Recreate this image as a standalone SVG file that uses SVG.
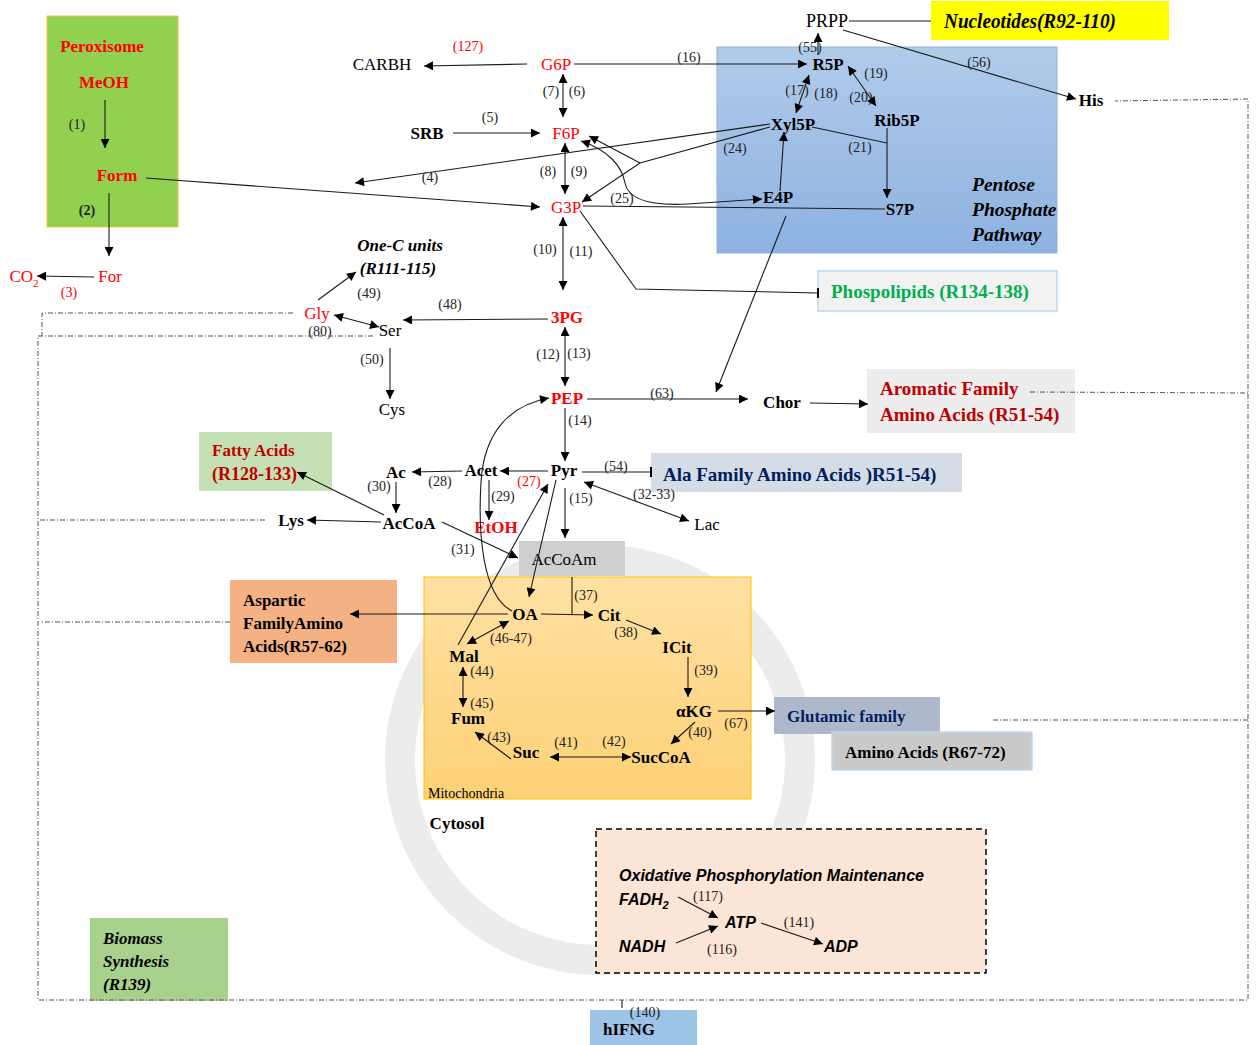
<svg xmlns="http://www.w3.org/2000/svg" width="1259" height="1045" viewBox="0 0 1259 1045">
<style>
  text { font-family: "Liberation Serif", "Times New Roman", serif; fill: #000; }
  .nb { font-size: 17px; font-weight: bold; text-anchor: middle; }
  .nr { font-size: 17px; text-anchor: middle; }
  .rx { font-size: 14px; text-anchor: middle; fill: #222; }
  .st { text-anchor: start; }
  .red { fill: #ff0000; }
  .dred { fill: #c00000; }
  .navy { fill: #002060; }
  .green { fill: #00b050; }
  .bt { font-size: 19px; font-weight: bold; }
  .bi { font-size: 17px; font-weight: bold; font-style: italic; }
  .ppp { font-size: 19.5px; }
  .ox { font-family: "Liberation Sans", Arial, sans-serif; font-size: 16px; font-weight: bold; font-style: italic; }
  .ln { fill: none; stroke: #1a1a1a; stroke-width: 1.1; }
  .a { marker-end: url(#ah); }
  .b { marker-start: url(#ah); marker-end: url(#ah); }
  .dd { fill: none; stroke: #555; stroke-width: 1; stroke-dasharray: 5 2 1 2; }
  .wm { fill: none; stroke: #ececec; }
</style>
<defs>
  <marker id="ah" viewBox="0 0 10 10" refX="10" refY="5" markerWidth="10" markerHeight="9" markerUnits="userSpaceOnUse" orient="auto-start-reverse">
    <path d="M0,0 L10,5 L0,10 z" fill="#000"/>
  </marker>
  <marker id="tee" viewBox="0 0 2 10" refX="1" refY="5" markerWidth="2" markerHeight="11" markerUnits="userSpaceOnUse" orient="auto">
    <rect width="2" height="10" fill="#000"/>
  </marker>
  <linearGradient id="ppp" x1="0" y1="0" x2="0" y2="1">
    <stop offset="0" stop-color="#b1cbea"/>
    <stop offset="1" stop-color="#8db2e1"/>
  </linearGradient>
  <linearGradient id="mito" x1="0" y1="0" x2="0" y2="1">
    <stop offset="0" stop-color="#ffe1a3"/>
    <stop offset="1" stop-color="#fdd176"/>
  </linearGradient>
</defs>

<rect width="1259" height="1045" fill="#fff"/>

<!-- faint background emblem -->
<g id="watermark">
  <circle class="wm" cx="600" cy="760" r="200" stroke-width="30"/>
</g>

<!-- compartments and pathway boxes -->
<g id="peroxisome">
  <rect x="47" y="16" width="131" height="211" fill="#92d050" stroke="#f5c342" stroke-width="1"/>
  <text class="nb red" x="102" y="52">Peroxisome</text>
  <text class="nb red" x="104" y="88">MeOH</text>
  <text class="nb red" x="117" y="181">Form</text>
  <text class="rx" x="77" y="129">(1)</text>
  <text class="rx" x="87" y="215" style="font-weight:bold">(2)</text>
</g>
<g id="ppp-box">
  <rect x="717" y="47" width="340" height="206" fill="url(#ppp)" stroke="#8fb0dc" stroke-width="1"/>
  <text class="bi ppp" x="972" y="191">Pentose</text>
  <text class="bi ppp" x="972" y="216">Phosphate</text>
  <text class="bi ppp" x="972" y="241">Pathway</text>
</g>
<g id="mitochondria">
  <rect x="424" y="577" width="327" height="222" fill="url(#mito)" stroke="#ffc000" stroke-width="1"/>
  <text x="428" y="798" font-family="'Liberation Sans', Arial, sans-serif" font-size="14" fill="#333">Mitochondria</text>
</g>
<g id="nucleotides">
  <rect x="931" y="1" width="238" height="39" fill="#ffff00"/>
  <text class="bi" x="944" y="28" style="font-size:20px" textLength="172" lengthAdjust="spacingAndGlyphs">Nucleotides(R92-110)</text>
</g>
<g id="phospholipids">
  <rect x="818" y="271" width="239" height="40" fill="#f2f2f2" stroke="#bdd7ee" stroke-width="1.5"/>
  <text class="bt green" x="831" y="298">Phospolipids (R134-138)</text>
</g>
<g id="aromatic">
  <rect x="867" y="369" width="208" height="64" fill="#ededed"/>
  <text class="bt dred" x="880" y="395">Aromatic Family</text>
  <text class="bt dred" x="880" y="421">Amino Acids (R51-54)</text>
</g>
<g id="ala">
  <rect x="651" y="453" width="311" height="39" fill="#d6dce5"/>
  <text class="bt navy" x="663" y="481">Ala Family Amino Acids )R51-54)</text>
</g>
<g id="fatty">
  <rect x="199" y="432" width="133" height="59" fill="#c5e0b4"/>
  <text class="nb st dred" x="212" y="456">Fatty Acids</text>
  <text class="nb st dred" x="212" y="480" style="font-size:18px">(R128-133)</text>
</g>
<g id="aspartic">
  <rect x="230" y="580" width="167" height="83" fill="#f4b183"/>
  <text class="nb st" x="243" y="606">Aspartic</text>
  <text class="nb st" x="243" y="629">FamilyAmino</text>
  <text class="nb st" x="243" y="652">Acids(R57-62)</text>
</g>
<g id="acocam">
  <rect x="519" y="541" width="106" height="35" fill="#d0cece"/>
  <text class="nr" x="564" y="565">AcCoAm</text>
</g>
<g id="glutamic">
  <rect x="774" y="697" width="166" height="37" fill="#adb9ca"/>
  <text class="nb st navy" x="787" y="722">Glutamic family</text>
</g>
<g id="glutamic-aa">
  <rect x="832" y="732" width="200" height="38" fill="#c9c9c9" stroke="#bdd7ee" stroke-width="1.5"/>
  <text class="nb st" x="845" y="758">Amino Acids (R67-72)</text>
</g>
<g id="biomass">
  <rect x="90" y="918" width="138" height="83" fill="#a9d18e"/>
  <text class="bi" x="103" y="944">Biomass</text>
  <text class="bi" x="103" y="967">Synthesis</text>
  <text class="bi" x="103" y="990">(R139)</text>
</g>
<g id="hifng">
  <rect x="590" y="1010" width="107" height="35" fill="#9dc3e6"/>
  <text class="nb st" x="603" y="1035">hIFNG</text>
  <text class="rx" x="645" y="1017">(140)</text>
</g>
<g id="oxphos">
  <rect x="596" y="829" width="390" height="144" fill="#fbe5d6" stroke="#000" stroke-width="1.5" stroke-dasharray="6 4"/>
  <text class="ox" x="619" y="881" textLength="305" lengthAdjust="spacingAndGlyphs">Oxidative Phosphorylation Maintenance</text>
  <text class="ox" x="619" y="905">FADH<tspan font-size="11" dy="4">2</tspan></text>
  <text class="ox" x="725" y="928">ATP</text>
  <text class="ox" x="619" y="952">NADH</text>
  <text class="ox" x="824" y="952">ADP</text>
  <text class="rx" x="708" y="901">(117)</text>
  <text class="rx" x="722" y="954">(116)</text>
  <text class="rx" x="799" y="927">(141)</text>
</g>

<!-- metabolites -->
<g id="n-for"><text class="nr red" x="110" y="282">For</text></g>
<g id="n-co2"><text class="nr red" x="24" y="282">CO<tspan font-size="11" dy="5">2</tspan></text></g>
<g id="n-carbh"><text class="nr" x="382" y="70">CARBH</text></g>
<g id="n-g6p"><text class="nr red" x="556" y="70">G6P</text></g>
<g id="n-srb"><text class="nb" x="427" y="139">SRB</text></g>
<g id="n-f6p"><text class="nr red" x="566" y="139">F6P</text></g>
<g id="n-g3p"><text class="nr red" x="566" y="213">G3P</text></g>
<g id="n-onec">
  <text class="bi" x="400" y="251" text-anchor="middle">One-C units</text>
  <text class="bi" x="398" y="274" text-anchor="middle">(R111-115)</text>
</g>
<g id="n-gly"><text class="nr red" x="317" y="319">Gly</text></g>
<g id="n-ser"><text class="nr" x="390" y="336">Ser</text></g>
<g id="n-cys"><text class="nr" x="392" y="415">Cys</text></g>
<g id="n-3pg"><text class="nb red" x="567" y="323">3PG</text></g>
<g id="n-pep"><text class="nb red" x="567" y="404">PEP</text></g>
<g id="n-chor"><text class="nb" x="782" y="408">Chor</text></g>
<g id="n-pyr"><text class="nb" x="564" y="476">Pyr</text></g>
<g id="n-acet"><text class="nb" x="481" y="476">Acet</text></g>
<g id="n-ac"><text class="nb" x="396" y="478">Ac</text></g>
<g id="n-accoa"><text class="nb" x="409" y="529">AcCoA</text></g>
<g id="n-lys"><text class="nb" x="291" y="526">Lys</text></g>
<g id="n-etoh"><text class="nb red" x="496" y="533">EtOH</text></g>
<g id="n-lac"><text class="nr" x="707" y="530">Lac</text></g>
<g id="n-oa"><text class="nb" x="525" y="620">OA</text></g>
<g id="n-cit"><text class="nb" x="609" y="621">Cit</text></g>
<g id="n-icit"><text class="nb" x="677" y="653">ICit</text></g>
<g id="n-akg"><text class="nb" x="694" y="717">αKG</text></g>
<g id="n-succoa"><text class="nb" x="661" y="763">SucCoA</text></g>
<g id="n-suc"><text class="nb" x="526" y="758">Suc</text></g>
<g id="n-fum"><text class="nb" x="468" y="724">Fum</text></g>
<g id="n-mal"><text class="nb" x="464" y="662">Mal</text></g>
<g id="n-cytosol"><text class="nb" x="457" y="829">Cytosol</text></g>
<g id="n-prpp"><text class="nr" x="827" y="27" style="font-size:18px">PRPP</text></g>
<g id="n-r5p"><text class="nb" x="828" y="70">R5P</text></g>
<g id="n-his"><text class="nb" x="1091" y="106">His</text></g>
<g id="n-xyl5p"><text class="nb" x="793" y="130">Xyl5P</text></g>
<g id="n-rib5p"><text class="nb" x="897" y="126">Rib5P</text></g>
<g id="n-e4p"><text class="nb" x="778" y="203">E4P</text></g>
<g id="n-s7p"><text class="nb" x="900" y="215">S7P</text></g>

<!-- reaction numbers -->
<g id="reaction-labels">
  <text class="rx red" x="69" y="297">(3)</text>
  <text class="rx red" x="468" y="51">(127)</text>
  <text class="rx" x="689" y="62">(16)</text>
  <text class="rx" x="551" y="96">(7)</text>
  <text class="rx" x="577" y="96">(6)</text>
  <text class="rx" x="490" y="122">(5)</text>
  <text class="rx" x="430" y="182">(4)</text>
  <text class="rx" x="548" y="176">(8)</text>
  <text class="rx" x="579" y="176">(9)</text>
  <text class="rx" x="622" y="203">(25)</text>
  <text class="rx" x="545" y="254">(10)</text>
  <text class="rx" x="581" y="256">(11)</text>
  <text class="rx" x="369" y="298">(49)</text>
  <text class="rx" x="320" y="336">(80)</text>
  <text class="rx" x="450" y="309">(48)</text>
  <text class="rx" x="372" y="364">(50)</text>
  <text class="rx" x="548" y="359">(12)</text>
  <text class="rx" x="579" y="358">(13)</text>
  <text class="rx" x="662" y="398">(63)</text>
  <text class="rx" x="580" y="425">(14)</text>
  <text class="rx" x="440" y="486">(28)</text>
  <text class="rx red" x="529" y="486">(27)</text>
  <text class="rx" x="503" y="501">(29)</text>
  <text class="rx" x="379" y="491">(30)</text>
  <text class="rx" x="616" y="471">(54)</text>
  <text class="rx" x="654" y="499">(32-33)</text>
  <text class="rx" x="581" y="503">(15)</text>
  <text class="rx" x="463" y="554">(31)</text>
  <text class="rx" x="586" y="600">(37)</text>
  <text class="rx" x="511" y="643">(46-47)</text>
  <text class="rx" x="626" y="637">(38)</text>
  <text class="rx" x="482" y="676">(44)</text>
  <text class="rx" x="706" y="675">(39)</text>
  <text class="rx" x="482" y="708">(45)</text>
  <text class="rx" x="736" y="728">(67)</text>
  <text class="rx" x="700" y="737">(40)</text>
  <text class="rx" x="499" y="742">(43)</text>
  <text class="rx" x="566" y="747">(41)</text>
  <text class="rx" x="614" y="746">(42)</text>
  <text class="rx" x="810" y="52">(55)</text>
  <text class="rx" x="979" y="67">(56)</text>
  <text class="rx" x="876" y="78">(19)</text>
  <text class="rx" x="797" y="95">(17)</text>
  <text class="rx" x="826" y="98">(18)</text>
  <text class="rx" x="861" y="102">(20)</text>
  <text class="rx" x="735" y="153">(24)</text>
  <text class="rx" x="860" y="152">(21)</text>
</g>

<!-- reactions -->
<g id="connectors">
  <path class="ln a" d="M105,100 L105,148"/>
  <path class="ln a" d="M109,193 L109,256"/>
  <path class="ln a" d="M94,277 L37,276"/>
  <path class="ln a" d="M146,178 L540,207"/>
  <path class="ln a" d="M770,124 L355,183"/>
  <path class="ln a" d="M527,64 L424,66"/>
  <path class="ln a" d="M574,64 L807,64"/>
  <path class="ln b" d="M563,74 L563,117"/>
  <path class="ln a" d="M453,133 L540,133"/>
  <path class="ln b" d="M565,143 L565,194"/>
  <path class="ln a" d="M770,127 L640,163 L582,202"/>
  <path class="ln a" d="M640,163 L589,136"/>
  <path class="ln b" d="M581,141 C608,150 622,166 625,183 C628,199 650,206 688,204 L762,199"/>
  <path class="ln" d="M583,206 L885,209"/>
  <path class="ln a" d="M780,191 L784,132"/>
  <path class="ln" d="M812,127 L887,143"/>
  <path class="ln a" d="M887,128 L887,198"/>
  <path class="ln b" d="M809,75 L796,113"/>
  <path class="ln b" d="M848,66 L876,106"/>
  <path class="ln a" d="M818,55 L818,33"/>
  <path class="ln" d="M849,21 L931,21"/>
  <path class="ln a" d="M843,30 L1076,99"/>
  <path class="ln a" d="M786,216 L716,392"/>
  <path class="ln" d="M580,211 L636,289 L818,293" marker-end="url(#tee)"/>
  <path class="ln b" d="M563,217 L563,290"/>
  <path class="ln a" d="M318,300 L356,272"/>
  <path class="ln b" d="M334,315 L379,327"/>
  <path class="ln a" d="M548,319 L403,320"/>
  <path class="ln a" d="M390,348 L390,399"/>
  <path class="ln b" d="M565,327 L565,386"/>
  <path class="ln a" d="M587,399 L748,399"/>
  <path class="ln a" d="M810,403 L868,404"/>
  <path class="ln a" d="M565,408 L565,461"/>
  <path class="ln a" d="M548,471 L500,471"/>
  <path class="ln a" d="M462,471 L412,472"/>
  <path class="ln a" d="M396,482 L396,513"/>
  <path class="ln a" d="M381,522 L307,520"/>
  <path class="ln a" d="M384,515 L297,472"/>
  <path class="ln a" d="M489,480 L489,520"/>
  <path class="ln" d="M582,472 L651,472" marker-end="url(#tee)"/>
  <path class="ln b" d="M584,482 L689,521"/>
  <path class="ln a" d="M565,488 L565,538"/>
  <path class="ln a" d="M442,522 L518,558"/>
  <path class="ln a" d="M512,611 C482,596 478,532 481,482 C484,432 510,405 549,398"/>
  <path class="ln a" d="M458,645 L548,484"/>
  <path class="ln a" d="M556,480 L529,597"/>
  <path class="ln a" d="M508,614 L350,614"/>
  <path class="ln a" d="M541,614 L593,615"/>
  <path class="ln" d="M572,577 L572,614"/>
  <path class="ln a" d="M626,620 L661,634"/>
  <path class="ln a" d="M688,657 L688,697"/>
  <path class="ln a" d="M718,711 L775,711"/>
  <path class="ln a" d="M695,722 L671,744"/>
  <path class="ln b" d="M550,757 L631,757"/>
  <path class="ln a" d="M511,759 L475,732"/>
  <path class="ln b" d="M463,667 L463,707"/>
  <path class="ln b" d="M467,644 L509,621"/>
  <path class="ln a" d="M678,897 L718,918"/>
  <path class="ln a" d="M676,943 L718,926"/>
  <path class="ln a" d="M761,923 L823,944"/>
  <path class="ln" d="M622,1000 L622,1008"/>
  <!-- biomass drains -->
  <path class="dd" d="M293,313 L42,313 L42,336"/>
  <path class="dd" d="M373,336 L38,336 L38,1000 L1248,1000 L1248,99 L1115,101"/>
  <path class="dd" d="M265,520 L40,520"/>
  <path class="dd" d="M230,622 L40,622"/>
  <path class="dd" d="M1030,392 L1248,393"/>
  <path class="dd" d="M993,720 L1248,720"/>
</g>
</svg>
